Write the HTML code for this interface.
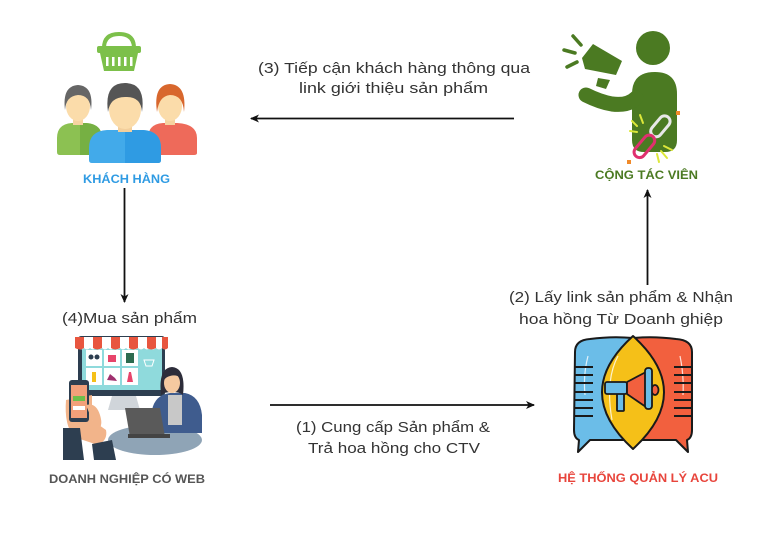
<!DOCTYPE html>
<html><head><meta charset="utf-8">
<style>
html,body{margin:0;padding:0;background:#fff;}
svg{display:block;}
text{font-family:"Liberation Sans",sans-serif;}
</style></head>
<body>
<svg width="768" height="533" viewBox="0 0 768 533" xmlns="http://www.w3.org/2000/svg">
<defs>
<marker id="ah" markerWidth="10" markerHeight="10" refX="8" refY="5" orient="auto" markerUnits="userSpaceOnUse">
<path d="M0,1 L9,5 L0,9 L2.5,5 Z" fill="#111"/>
</marker>
</defs>
<rect width="768" height="533" fill="#fff"/>

<!-- Arrows -->
<line x1="514" y1="118.5" x2="251" y2="118.5" stroke="#111" stroke-width="1.8" marker-end="url(#ah)"/>
<line x1="270" y1="405" x2="534" y2="405" stroke="#111" stroke-width="1.8" marker-end="url(#ah)"/>
<line x1="124.5" y1="188" x2="124.5" y2="302" stroke="#111" stroke-width="1.8" marker-end="url(#ah)"/>
<line x1="647.5" y1="285" x2="647.5" y2="190" stroke="#111" stroke-width="1.8" marker-end="url(#ah)"/>

<!-- Connector texts -->
<g fill="#333" font-size="15">
<text x="258" y="73" textLength="272" lengthAdjust="spacingAndGlyphs">(3) Tiếp cận khách hàng thông qua</text>
<text x="299" y="93" textLength="189" lengthAdjust="spacingAndGlyphs">link giới thiệu sản phẩm</text>
<text x="296" y="432" textLength="194" lengthAdjust="spacingAndGlyphs">(1) Cung cấp Sản phẩm &amp;</text>
<text x="308" y="453" textLength="172" lengthAdjust="spacingAndGlyphs">Trả hoa hồng cho CTV</text>
<text x="509" y="302" textLength="224" lengthAdjust="spacingAndGlyphs">(2) Lấy link sản phẩm &amp; Nhận</text>
<text x="519" y="324" textLength="204" lengthAdjust="spacingAndGlyphs">hoa hồng Từ Doanh ghiệp</text>
<text x="62" y="323" textLength="135" lengthAdjust="spacingAndGlyphs">(4)Mua sản phẩm</text>
</g>

<!-- Node labels -->
<g font-weight="bold" font-size="12">
<text x="83" y="183" fill="#2f9be3" textLength="87" lengthAdjust="spacingAndGlyphs">KHÁCH HÀNG</text>
<text x="595" y="179" fill="#4b7a22" textLength="103" lengthAdjust="spacingAndGlyphs">CỘNG TÁC VIÊN</text>
<text x="49" y="483" fill="#555" textLength="156" lengthAdjust="spacingAndGlyphs">DOANH NGHIỆP CÓ WEB</text>
<text x="558" y="482" fill="#e8453c" textLength="160" lengthAdjust="spacingAndGlyphs">HỆ THỐNG QUẢN LÝ ACU</text>
</g>

<!-- KHÁCH HÀNG icon -->
<g>
<!-- basket -->
<path d="M104,48 Q104,34 119,34 Q134,34 134,48" fill="none" stroke="#7cc04a" stroke-width="4"/>
<rect x="97" y="46" width="44" height="7" rx="2" fill="#7cc04a"/>
<path d="M100,53 L138,53 L134,71 L104,71 Z" fill="#7cc04a"/>
<g fill="#fff"><rect x="106" y="57" width="2.5" height="9"/><rect x="112" y="57" width="2.5" height="9"/><rect x="118" y="57" width="2.5" height="9"/><rect x="124" y="57" width="2.5" height="9"/><rect x="130" y="57" width="2.5" height="9"/></g>
<!-- left green person -->
<path d="M57,152 L57,138 Q57,124 72,123 L86,123 Q102,124 102,138 L102,155 L60,155 Q57,155 57,152 Z" fill="#8cc152"/>
<path d="M80,123 L86,123 Q102,124 102,138 L102,155 L80,155 Z" fill="#76b043"/>
<rect x="73" y="114" width="10" height="11" fill="#f5d3a0"/>
<ellipse cx="78" cy="106" rx="12" ry="15" fill="#fbdcaa"/>
<path d="M65,110 Q62,86 78,85 Q94,86 91,110 Q90,95 78,95 Q66,96 65,110 Z" fill="#666"/>
<!-- right red person -->
<path d="M148,152 L148,138 Q148,124 163,123 L177,123 Q197,124 197,138 L197,153 Q197,155 194,155 L148,155 Z" fill="#ee6a5a"/>
<rect x="165" y="114" width="10" height="11" fill="#f5d3a0"/>
<ellipse cx="170" cy="106" rx="12" ry="15" fill="#fbdcaa"/>
<path d="M157,112 Q153,85 170,84 Q187,85 184,112 Q183,95 170,95 Q159,96 157,112 Z" fill="#d8672d"/>
<!-- middle blue person -->
<path d="M89,160 L89,148 Q89,131 107,130 L143,130 Q161,131 161,148 L161,160 Q161,163 158,163 L92,163 Q89,163 89,160 Z" fill="#42aaea"/>
<path d="M125,130 L143,130 Q161,131 161,148 L161,160 Q161,163 158,163 L125,163 Z" fill="#2f9be3"/>
<rect x="118" y="120" width="14" height="12" fill="#f3cf9c"/>
<ellipse cx="125" cy="109" rx="16" ry="20" fill="#fbdcaa"/>
<path d="M108,112 Q104,83 125,83 Q146,83 142,112 Q141,96 125,97 Q110,97 108,112 Z" fill="#555"/>
</g>

<!-- CỘNG TÁC VIÊN icon -->
<g>
<circle cx="653" cy="48" r="17" fill="#4b7a22"/>
<path d="M632,94 Q632,72 655,72 Q677,72 677,94 L677,140 Q677,152 665,152 L644,152 Q632,152 632,140 Z" fill="#4b7a22"/>
<path d="M586,95 Q600,102 612,104 Q628,106 636,98" fill="none" stroke="#4b7a22" stroke-width="15" stroke-linecap="round"/>
<path d="M582,58 L593,44 L622,61 L616,75 L585,69 Z" fill="#4b7a22"/>
<path d="M598,78 L610,80 L606,89 L596,86 Z" fill="#4b7a22"/>
<g stroke="#4b7a22" stroke-width="3.5" stroke-linecap="round">
<line x1="573" y1="36" x2="581" y2="45"/>
<line x1="564" y1="50" x2="575" y2="53"/>
<line x1="567" y1="67" x2="577" y2="62"/>
</g>
<g stroke="#dde83a" stroke-width="2" stroke-linecap="round">
<line x1="640" y1="115" x2="643" y2="123"/>
<line x1="632" y1="121" x2="637" y2="126"/>
<line x1="630" y1="131" x2="637" y2="132"/>
<line x1="664" y1="146" x2="672" y2="150"/>
<line x1="661" y1="151" x2="667" y2="158"/>
<line x1="657" y1="154" x2="659" y2="162"/>
</g>
<rect x="648" y="121" width="24" height="11" rx="5.5" transform="rotate(-50 660 126)" fill="none" stroke="#e8e8e8" stroke-width="3"/>
<rect x="631" y="141" width="26" height="11" rx="5.5" transform="rotate(-50 644 146)" fill="none" stroke="#e0306f" stroke-width="3"/>
<rect x="676" y="111" width="4" height="4" fill="#f08a2a"/>
<rect x="627" y="160" width="4" height="4" fill="#f08a2a"/>
</g>

<!-- DOANH NGHIỆP icon -->
<g>
<!-- monitor -->
<rect x="78" y="336" width="87" height="60" rx="3" fill="#2d3e50"/>
<rect x="82" y="346" width="80" height="44" fill="#8fdadc"/>
<path d="M75,337 L168,337 L168,348 Q165,351 162,348 Q159,351 156,348 Q153,351 150,348 Q147,351 144,348 Q141,351 138,348 Q135,351 132,348 Q129,351 126,348 Q123,351 120,348 Q117,351 114,348 Q111,351 108,348 Q105,351 102,348 Q99,351 96,348 Q93,351 90,348 Q87,351 84,348 Q81,351 78,348 Q76,350 75,348 Z" fill="#fff"/>
<g fill="#e8563f">
<path d="M75,337 L84,337 L84,348 Q80,351 75,348 Z"/>
<path d="M93,337 L102,337 L102,348 Q97,351 93,348 Z"/>
<path d="M111,337 L120,337 L120,348 Q115,351 111,348 Z"/>
<path d="M129,337 L138,337 L138,348 Q133,351 129,348 Z"/>
<path d="M147,337 L156,337 L156,348 Q151,351 147,348 Z"/>
<path d="M162,337 L168,337 L168,348 Q165,351 162,348 Z"/>
</g>
<g fill="#fff">
<rect x="86" y="350" width="16" height="16"/><rect x="104" y="350" width="16" height="16"/><rect x="122" y="350" width="16" height="16"/>
<rect x="86" y="368" width="16" height="17"/><rect x="104" y="368" width="16" height="17"/><rect x="122" y="368" width="16" height="17"/>
</g>
<circle cx="91" cy="357" r="2.5" fill="#2d3e50"/><circle cx="97" cy="357" r="2.5" fill="#2d3e50"/>
<rect x="108" y="355" width="8" height="7" fill="#e8456b"/>
<rect x="126" y="353" width="8" height="10" fill="#2d6b4f"/>
<rect x="92" y="372" width="4" height="10" fill="#f5c018"/>
<path d="M107,380 L117,381 L115,378 L110,374 Z" fill="#a0306f"/>
<path d="M127,382 L133,382 L131,372 L129,372 Z" fill="#e8456b"/>
<path d="M144,360 L154,360 L152,366 L146,366 Z" fill="none" stroke="#fff" stroke-width="1"/>
<!-- stand -->
<path d="M112,396 L136,396 L140,410 L108,410 Z" fill="#d0d5da"/>
<!-- table -->
<ellipse cx="155" cy="440" rx="47" ry="15" fill="#8fa4b6"/>
<!-- woman -->
<path d="M152,433 L152,410 Q155,395 170,393 L185,393 Q200,396 202,415 L202,433 Z" fill="#3f5c8e"/>
<rect x="168" y="395" width="14" height="30" fill="#c8c8c8"/>
<path d="M161,395 Q158,368 172,367 Q186,368 183,395 Q180,392 172,392 Q164,392 161,395 Z" fill="#2d2d3a"/>
<ellipse cx="172" cy="383" rx="8" ry="10" fill="#f5c9a0"/>
<path d="M164,380 Q166,370 174,371 Q180,372 181,378 Q176,374 170,376 Q166,377 164,380 Z" fill="#2d2d3a"/>
<!-- laptop -->
<path d="M125,408 L160,408 L165,437 L130,437 Z" fill="#5a5a5a"/>
<rect x="128" y="434" width="42" height="4" fill="#444"/>
<!-- hand + phone -->
<path d="M66,400 Q64,425 74,437 L98,445 Q108,440 106,430 L92,420 L92,395 Z" fill="#f2b48a"/>
<rect x="69" y="380" width="20" height="42" rx="3" fill="#2d3e50"/>
<rect x="71" y="385" width="16" height="33" fill="#f2a07a"/>
<rect x="73" y="396" width="12" height="5" fill="#6dbf4b"/>
<rect x="73" y="406" width="12" height="4" fill="#fff"/>
<path d="M86,405 Q96,402 100,415 Q104,428 96,430 Z" fill="#f2b48a"/>
<path d="M63,428 L80,428 L84,460 L63,460 Z" fill="#2d3e50"/>
<path d="M92,444 L112,440 L116,460 L94,460 Z" fill="#2d3e50"/>
</g>

<!-- HỆ THỐNG icon -->
<g stroke="#1a1a1a" stroke-width="2" stroke-linejoin="round">
<path d="M575,352 Q575,340 590,339 Q612,336 633,338 L633,440 L590,440 L578,452 L579,440 Q574,438 574,430 Z" fill="#6bbde8"/>
<path d="M633,338 Q654,336 676,339 Q692,340 692,352 L692,430 Q692,438 687,440 L688,452 L676,440 L633,440 Z" fill="#f2603e"/>
<path d="M633,336 Q571,392 633,449 Q695,392 633,336 Z" fill="#f5c018"/>
</g>
<g stroke="#fff" stroke-width="1.2" fill="none" opacity="0.8">
<path d="M588,356 Q583,375 585,395"/>
<path d="M680,356 Q684,375 683,395"/>
<path d="M618,356 Q605,380 612,420"/>
</g>
<g stroke="#1a1a1a" stroke-width="2">
<line x1="575" y1="367" x2="593" y2="367"/><line x1="575" y1="375" x2="593" y2="375"/><line x1="575" y1="383" x2="593" y2="383"/><line x1="575" y1="392" x2="593" y2="392"/><line x1="575" y1="400" x2="593" y2="400"/><line x1="575" y1="408" x2="593" y2="408"/><line x1="575" y1="416" x2="593" y2="416"/>
<line x1="674" y1="367" x2="692" y2="367"/><line x1="674" y1="375" x2="692" y2="375"/><line x1="674" y1="383" x2="692" y2="383"/><line x1="674" y1="392" x2="692" y2="392"/><line x1="674" y1="400" x2="692" y2="400"/><line x1="674" y1="408" x2="692" y2="408"/><line x1="674" y1="416" x2="692" y2="416"/>
</g>
<g stroke="#1a1a1a" stroke-width="1.8" stroke-linejoin="round">
<rect x="617" y="392" width="7" height="19" rx="1" fill="#6bbde8"/>
<rect x="605" y="382" width="22" height="12" rx="2" fill="#6bbde8"/>
<path d="M627,382 L646,372 L646,407 L627,394 Z" fill="#f2603e"/>
<ellipse cx="655" cy="390" rx="3.5" ry="5" fill="#f2603e"/>
<rect x="645" y="368" width="7" height="41" rx="3" fill="#6bbde8"/>
</g>
</svg>
</body></html>
